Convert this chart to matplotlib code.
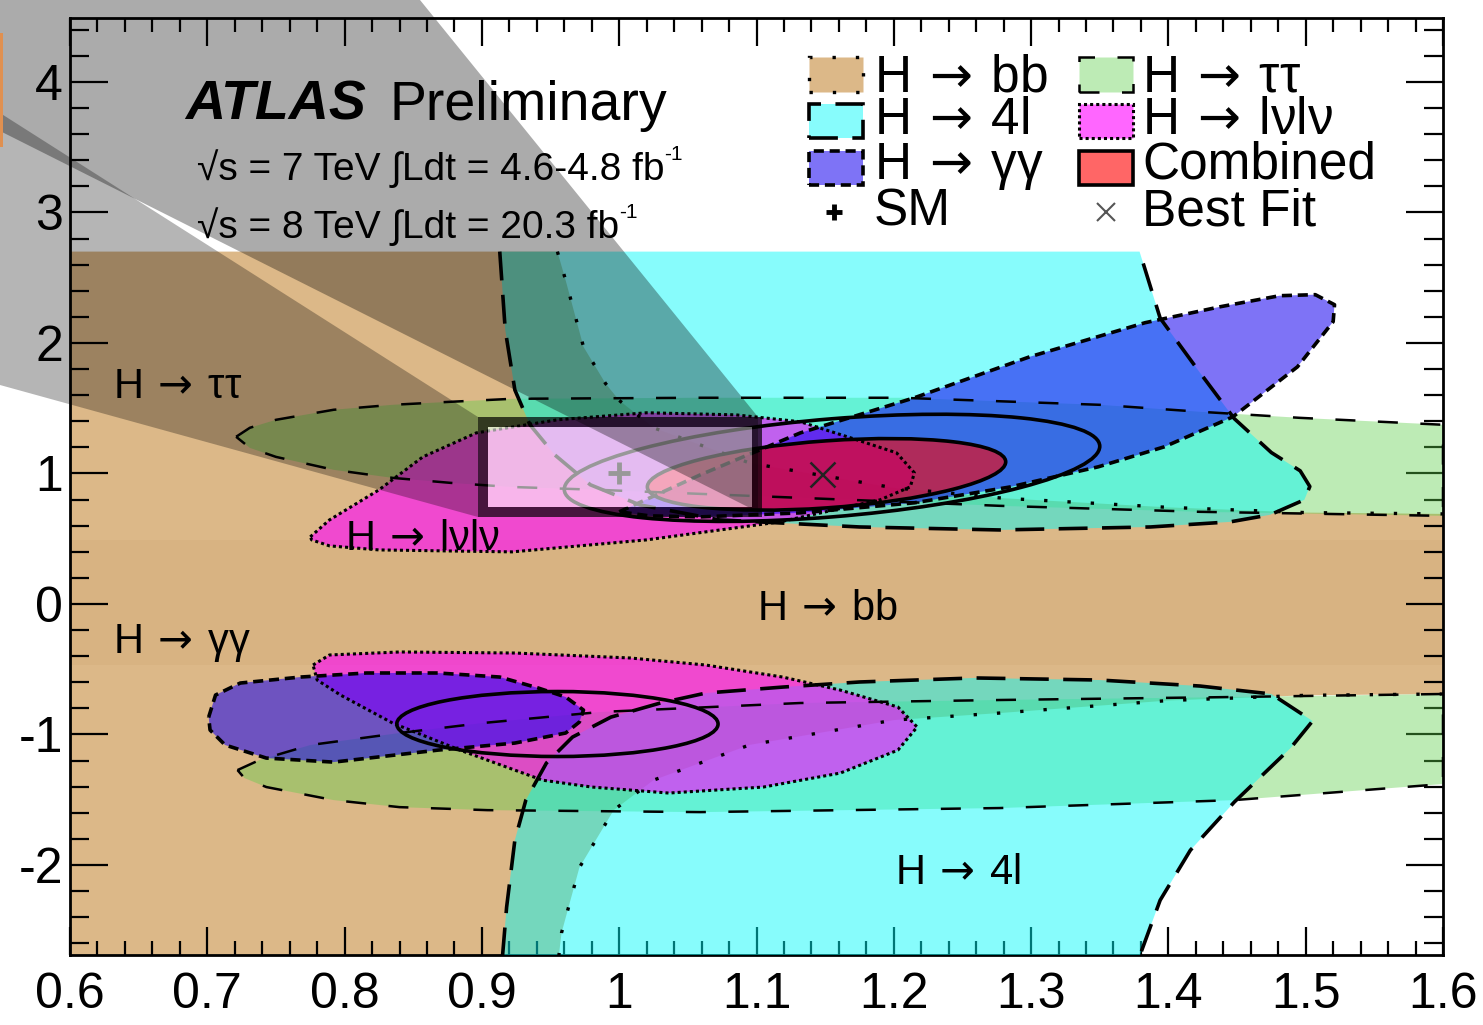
import matplotlib
matplotlib.use("Agg")
import matplotlib.pyplot as plt
from matplotlib.patches import Ellipse, Polygon, Rectangle
from matplotlib.transforms import Affine2D
from matplotlib.colors import to_rgba
from matplotlib.ticker import MultipleLocator

plt.rcParams['font.family'] = ['Liberation Sans', 'DejaVu Sans']
plt.rcParams['axes.unicode_minus'] = False
plt.rcParams['mathtext.fontset'] = 'dejavusans'

# ---------------- data ----------------
x_ticks = [0.6, 0.7, 0.8, 0.9, 1.0, 1.1, 1.2, 1.3, 1.4, 1.5, 1.6]
x_tick_labels = ['0.6', '0.7', '0.8', '0.9', '1', '1.1', '1.2', '1.3', '1.4', '1.5', '1.6']
y_ticks = [-2, -1, 0, 1, 2, 3, 4]
y_tick_labels = ['-2', '-1', '0', '1', '2', '3', '4']

kv_range = [0.6, 1.6]
kf_scan = 2.7          # contours scanned for |kappa_F| < 2.7

sm_point = [1.0, 1.0]
best_fit = [1.148, 0.997]

# H -> bb : region left / inside of the boundary curves
bb_up_x = [0.955, 0.961, 0.974, 0.990, 1.000, 1.025, 1.095, 1.200, 1.280, 1.400, 1.500, 1.600]
bb_up_y = [2.70, 2.48, 1.97, 1.69, 1.56, 1.35, 1.08, 0.89, 0.81, 0.74, 0.70, 0.69]
bb_dn_x = [1.600, 1.500, 1.400, 1.277, 1.200, 1.095, 1.025, 0.996, 0.971, 0.958, 0.956]
bb_dn_y = [-0.69, -0.70, -0.74, -0.836, -0.89, -1.08, -1.35, -1.58, -2.02, -2.52, -2.70]
bb_core_band = [-0.47, 0.49]

# H -> tautau (two bands)
tt_up_x = [0.721, 0.731, 0.750, 0.792, 0.835, 0.877, 0.922, 1.059, 1.205, 1.350, 1.424, 1.496, 1.600,
           1.600, 1.423, 1.277, 1.132, 0.986, 0.920, 0.877, 0.835, 0.792, 0.750, 0.731]
tt_up_y = [1.281, 1.350, 1.411, 1.488, 1.526, 1.549, 1.572, 1.580, 1.580, 1.526, 1.472, 1.426, 1.373,
           0.675, 0.706, 0.752, 0.813, 0.874, 0.897, 0.928, 0.966, 1.028, 1.127, 1.196]
tt_dn_x = [0.722, 0.738, 0.775, 0.840, 0.900, 0.986, 1.132, 1.277, 1.448, 1.600,
           1.600, 1.448, 1.277, 1.059, 0.904, 0.840, 0.792, 0.743, 0.727]
tt_dn_y = [-1.273, -1.196, -1.081, -0.989, -0.913, -0.828, -0.759, -0.736, -0.713, -0.690,
           -1.380, -1.503, -1.564, -1.595, -1.580, -1.557, -1.503, -1.403, -1.334]

# H -> 4l (two open regions, clipped at the scan range)
zz_up_x = [0.913, 0.917, 0.924, 0.935, 0.953, 0.979, 1.015, 1.073, 1.175, 1.277, 1.387, 1.445,
           1.474, 1.499, 1.503, 1.496, 1.475, 1.448, 1.421, 1.394, 1.379]
zz_up_y = [2.70, 2.10, 1.64, 1.373, 1.143, 0.913, 0.759, 0.644, 0.590, 0.567, 0.590, 0.629,
           0.683, 0.798, 0.90, 1.02, 1.16, 1.42, 1.80, 2.19, 2.70]
zz_dn_x = [0.915, 0.918, 0.924, 0.932, 0.947, 0.966, 0.994, 1.030, 1.063, 1.119, 1.175, 1.259,
           1.350, 1.423, 1.475, 1.505, 1.489, 1.448, 1.416, 1.394, 1.379]
zz_dn_y = [-2.70, -2.324, -1.810, -1.503, -1.219, -1.020, -0.867, -0.759, -0.683, -0.637, -0.598,
           -0.567, -0.583, -0.629, -0.690, -0.897, -1.104, -1.518, -1.887, -2.27, -2.70]

# H -> WW -> lvlv
ww_up_x = [0.775, 0.789, 0.825, 0.857, 0.896, 0.955, 1.020, 1.085, 1.132, 1.173, 1.202, 1.215,
           1.212, 1.190, 1.117, 1.020, 0.922, 0.825, 0.789, 0.776]
ww_up_y = [0.514, 0.644, 0.874, 1.127, 1.311, 1.411, 1.465, 1.449, 1.396, 1.258, 1.158, 1.005,
           0.897, 0.798, 0.629, 0.491, 0.399, 0.414, 0.445, 0.491]
ww_dn_x = [0.777, 0.789, 0.840, 0.924, 1.008, 1.063, 1.119, 1.161, 1.203, 1.217, 1.203, 1.161,
           1.105, 1.036, 0.980, 0.944, 0.884, 0.835, 0.797, 0.780]
ww_dn_y = [-0.468, -0.391, -0.368, -0.376, -0.414, -0.468, -0.560, -0.660, -0.790, -0.943, -1.120,
           -1.296, -1.403, -1.449, -1.403, -1.350, -1.120, -0.913, -0.698, -0.583]

# H -> gamma gamma
gg_up_x = [1.000, 1.059, 1.132, 1.215, 1.299, 1.383, 1.438, 1.481, 1.507, 1.521, 1.520, 1.494,
           1.447, 1.397, 1.349, 1.285, 1.215, 1.132, 1.059, 1.022]
gg_up_y = [0.706, 0.989, 1.311, 1.580, 1.894, 2.155, 2.278, 2.362, 2.370, 2.293, 2.163, 1.817,
           1.434, 1.204, 1.051, 0.897, 0.775, 0.698, 0.667, 0.675]
gg_dn_x = [0.701, 0.706, 0.724, 0.768, 0.816, 0.868, 0.913, 0.941, 0.961, 0.974, 0.971, 0.961,
           0.924, 0.868, 0.792, 0.743, 0.713, 0.702]
gg_dn_y = [-0.867, -0.698, -0.606, -0.560, -0.529, -0.529, -0.560, -0.644, -0.713, -0.813, -0.905,
           -0.989, -1.066, -1.120, -1.212, -1.181, -1.081, -0.966]

# Combined: (centre kV, centre kF, half-width in kV, tilt of the ends in kF, half-height in kF)
comb68 = [1.151, 0.993, 0.1305, 0.096, 0.257]
comb95_up = [1.155, 1.043, 0.195, 0.165, 0.376]
comb95_dn = [0.955, -0.920, 0.117, 0.0, 0.249]

ARROW = '$\\,\\rightarrow\\,$'
region_labels = ['H' + ARROW + 'ττ', 'H' + ARROW + 'lνlν', 'H' + ARROW + 'bb',
                 'H' + ARROW + 'γγ', 'H' + ARROW + '4l']
region_label_x = [0.631, 0.800, 1.100, 0.631, 1.201]
region_label_y = [1.58, 0.414, -0.123, -0.376, -2.147]

legend_col1 = ['H' + ARROW + 'bb', 'H' + ARROW + '4l', 'H' + ARROW + 'γγ', 'SM']
legend_col2 = ['H' + ARROW + 'ττ', 'H' + ARROW + 'lνlν', 'Combined', 'Best Fit']

# ---------------- styles ----------------
C_BB = to_rgba('#DCB888', 1.0)
C_TT = to_rgba('#5CCD48', 0.40)
C_4L = to_rgba('#00FAFA', 0.47)
C_WW = to_rgba('#FF00FF', 0.60)
C_GG = to_rgba('#1400F0', 0.55)
C_CB = to_rgba('#FF0000', 0.60)

LS_BB = dict(ls=(0, (1, 6)), lw=2.4)
LS_TT = dict(ls=(0, (8, 9)), lw=1.8)
LS_4L = dict(ls=(0, (8, 4)), lw=2.6)
LS_WW = dict(ls=(0, (1, 1)), lw=2.2)
LS_GG = dict(ls=(0, (2.8, 1.6)), lw=2.6)
LS_CB = dict(ls='-', lw=2.6)

W, H = 1483, 1025
fig = plt.figure(figsize=(W / 100, H / 100), dpi=100)
ax = fig.add_axes([70 / W, 1 - 955 / H, (1443 - 70) / W, (955 - 18) / H])
ax.set_xlim(*kv_range)
ax.set_ylim(-2.69, 4.49)


def closed(xs, ys):
    return list(xs) + [xs[0]], list(ys) + [ys[0]]


def ell_transform(p):
    cx, cy, a, tilt, b = p
    return Affine2D([[a, 0, cx], [tilt, b, cy], [0, 0, 1]]) + ax.transData


# fills
ax.fill([kv_range[0]] + bb_up_x + bb_dn_x + [kv_range[0]],
        [kf_scan] + bb_up_y + bb_dn_y + [-kf_scan], fc=C_BB, ec='none', zorder=1)
ax.fill_between(kv_range, bb_core_band[0], bb_core_band[1], color='#A07030', alpha=0.06,
                lw=0, zorder=1.1)
for xs, ys in [(tt_up_x, tt_up_y), (tt_dn_x, tt_dn_y)]:
    ax.fill(xs, ys, fc=C_TT, ec='none', zorder=2)
for xs, ys in [(zz_up_x, zz_up_y), (zz_dn_x, zz_dn_y)]:
    ax.fill(xs, ys, fc=C_4L, ec='none', zorder=3)
for xs, ys in [(ww_up_x, ww_up_y), (ww_dn_x, ww_dn_y)]:
    ax.fill(xs, ys, fc=C_WW, ec='none', zorder=4)
for xs, ys in [(gg_up_x, gg_up_y), (gg_dn_x, gg_dn_y)]:
    ax.fill(xs, ys, fc=C_GG, ec='none', zorder=5)
ax.add_patch(Ellipse((0, 0), 2, 2, transform=ell_transform(comb68), fc=C_CB, ec='none', zorder=6))

# outlines
ax.plot(bb_up_x, bb_up_y, color='k', zorder=8, **LS_BB)
ax.plot(bb_dn_x, bb_dn_y, color='k', zorder=8, **LS_BB)
for xs, ys in [(tt_up_x, tt_up_y), (tt_dn_x, tt_dn_y)]:
    ax.plot(*closed(xs, ys), color='k', zorder=8, **LS_TT)
for xs, ys in [(zz_up_x, zz_up_y), (zz_dn_x, zz_dn_y)]:
    ax.plot(xs, ys, color='k', zorder=8, **LS_4L)
for xs, ys in [(ww_up_x, ww_up_y), (ww_dn_x, ww_dn_y)]:
    ax.plot(*closed(xs, ys), color='k', zorder=8, **LS_WW)
for xs, ys in [(gg_up_x, gg_up_y), (gg_dn_x, gg_dn_y)]:
    ax.plot(*closed(xs, ys), color='k', zorder=8, **LS_GG)
for p in [comb68, comb95_up, comb95_dn]:
    ax.add_patch(Ellipse((0, 0), 2, 2, transform=ell_transform(p), fill=False, ec='k',
                         lw=LS_CB['lw'], zorder=8))

ax.plot(*sm_point, marker='+', ms=16, mew=3.5, color='k', ls='none', zorder=9)
ax.plot(*best_fit, marker='x', ms=18, mew=1.8, color='#222222', ls='none', zorder=9)

for s, x, y in zip(region_labels, region_label_x, region_label_y):
    ax.text(x, y, s, fontsize=30, ha='left', va='baseline', zorder=9)

# axes styling
ax.set_xticks(x_ticks)
ax.set_xticklabels(x_tick_labels)
ax.set_yticks(y_ticks)
ax.set_yticklabels(y_tick_labels)
ax.xaxis.set_minor_locator(MultipleLocator(0.02))
ax.yaxis.set_minor_locator(MultipleLocator(0.2))
ax.tick_params(which='both', direction='in', top=True, right=True, width=1.6, labelsize=36)
ax.tick_params(axis='x', which='major', length=20, pad=12)
ax.tick_params(axis='x', which='minor', length=10)
ax.tick_params(axis='y', which='major', length=27, pad=5)
ax.tick_params(axis='y', which='minor', length=14)
for sp in ax.spines.values():
    sp.set_linewidth(2.0)


def fp(px, py):
    return (px / W, 1 - py / H)


# header text
fig.text(*fp(185, 120), 'ATLAS', fontsize=40, fontweight='bold', fontstyle='italic',
         ha='left', va='baseline', zorder=10)
fig.text(*fp(390, 120), 'Preliminary', fontsize=40, ha='left', va='baseline', zorder=10)
t1 = fig.text(*fp(197, 180), '√s = 7 TeV ∫Ldt = 4.6-4.8 fb', fontsize=28, ha='left',
              va='baseline', zorder=10)
t2 = fig.text(*fp(197, 238), '√s = 8 TeV ∫Ldt = 20.3 fb', fontsize=28, ha='left',
              va='baseline', zorder=10)
for t in (t1, t2):
    fig.add_artist(matplotlib.text.Annotation('-1', xy=(1.0, 0.62), xycoords=t, fontsize=15,
                                              ha='left', va='bottom', zorder=10))

# legend (manual, ROOT-like)
box_rows = [(57, 92), (104, 138), (151, 185)]
text_base = [91, 134, 179, 225]
col1_styles = [(C_BB, LS_BB), (C_4L, LS_4L), (C_GG, LS_GG)]
col2_styles = [(C_TT, LS_TT), (C_WW, LS_WW), (C_CB, LS_CB)]
for (x0, x1, styles) in [(809, 863, col1_styles), (1079, 1133, col2_styles)]:
    for (ytop, ybot), (fc, ls) in zip(box_rows, styles):
        fx0, fy1 = fp(x0, ytop)
        fx1, fy0 = fp(x1, ybot)
        fig.add_artist(Rectangle((fx0, fy0), fx1 - fx0, fy1 - fy0, transform=fig.transFigure,
                                 fc=fc, ec='k', ls=ls['ls'], lw=ls['lw'], zorder=10))
for s, yb in zip(legend_col1, text_base):
    fig.text(*fp(874, yb), s, fontsize=37, ha='left', va='baseline', zorder=10)
for s, yb in zip(legend_col2, text_base):
    fig.text(*fp(1142, yb), s, fontsize=37, ha='left', va='baseline', zorder=10)
fig.add_artist(matplotlib.lines.Line2D([834 / W], [1 - 212 / H], marker='+', ms=12, mew=3.5,
                                       color='k', transform=fig.transFigure, zorder=10))
fig.add_artist(matplotlib.lines.Line2D([1106 / W], [1 - 212 / H], marker='x', ms=13, mew=1.5,
                                       color='#555555', transform=fig.transFigure, zorder=10))


# screen-capture lens overlay present in the reference image
def fpoly(pts, **kw):
    return Polygon([fp(px, py) for px, py in pts], closed=True, transform=fig.transFigure, **kw)


fig.add_artist(fpoly([(488, 427), (752, 427), (752, 507), (488, 507)], fc='white', alpha=0.6,
                     ec='none', zorder=20))
fig.add_artist(fpoly([(483, 422), (757, 422), (757, 512), (483, 512)], fill=False, ec='black',
                     alpha=0.7, lw=7.2, joinstyle='miter', zorder=20))
fig.add_artist(fpoly([(0, 0), (420, 0), (758, 417), (758, 512), (0, 131)], fc='black', alpha=0.33,
                     ec='none', zorder=21))
fig.add_artist(fpoly([(0, 113), (478, 417), (478, 517), (0, 385)], fc='black', alpha=0.29,
                     ec='none', zorder=21))
fig.add_artist(fpoly([(0, 33), (3, 33), (3, 147), (0, 147)], fc='#E09050', ec='none', zorder=22))

fig.savefig('out.png', dpi=100)
